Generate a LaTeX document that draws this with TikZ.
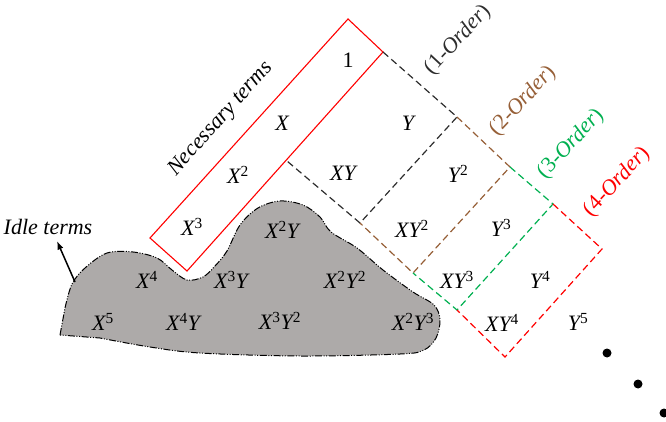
\documentclass[tikz,border=0pt]{standalone}
\usepackage{fontspec}
\setmainfont{Liberation Serif}
\usepackage{tikz}
\usetikzlibrary{arrows.meta,calc}
\definecolor{idlegray}{RGB}{173,170,169}
\definecolor{ordbrown}{RGB}{150,95,55}
\definecolor{ordgreen}{RGB}{0,176,80}
\definecolor{ordblack}{RGB}{45,45,45}
\newcommand{\pw}[1]{\textsuperscript{\upshape #1}}
\newcommand{\termsize}{\fontsize{22}{26}\selectfont}
\tikzset{
  gridline/.style={dash pattern=on 7pt off 4pt, line width=1.2pt},
  needbox/.style={draw=red, line width=1.1pt},
  idleblob/.style={draw=black, fill=idlegray, line width=1pt, dash pattern=on 7pt off 1.6pt on 1pt off 1.6pt on 1pt off 1.6pt},
  idlearrow/.style={-{Latex[length=3mm, width=2.2mm]}, line width=1.5pt},
  term/.style={font=\termsize\itshape, inner sep=0pt},
  ordlabel/.style={font=\termsize, rotate=47, inner sep=0pt},
  etcdot/.style={circle, fill=black, minimum size=9pt, inner sep=0pt}
}
\begin{document}
\begin{tikzpicture}[>=Latex, x=1pt, y=-1pt]
      \useasboundingbox (0,0) rectangle (666,422);
      \coordinate (nT) at (348,19);
      \coordinate (nR) at (383,52);
      \coordinate (nB) at (187,271);
      \coordinate (nL) at (150,238);
      \coordinate (m1) at (287,161);
      \coordinate (p1) at (457,117);
      \coordinate (q1) at (360,223);
      \coordinate (p2) at (510,167);
      \coordinate (q2) at (413,273);
      \coordinate (p3) at (553,204);
      \coordinate (q3) at (457,310);
      \coordinate (p4) at (602,249);
      \coordinate (q4) at (505,357);
      \draw[idleblob] (60,335) -- plot[smooth, tension=0.55] coordinates {(65,308) (72,284) (85,268) (107,253) (133,252) (157,258) (172,270) (187,280) (203,277) (215,266) (227,251) (240,225) (258,208) (280,201) (303,205) (320,217) (331,232) (357,248) (383,270) (413,292) (434,305) (440,320) (436,338) (424,350) (400,354) (300,356) (200,353) (150,347) (100,338)} -- cycle;
      \draw[needbox] (nT) -- (nR) -- (nB) -- (nL) -- cycle;
      \draw[gridline, ordblack] (nR) -- (p1) -- (q1) -- (m1);
      \draw[gridline, ordbrown] (p1) -- (p2) -- (q2) -- (q1);
      \draw[gridline, ordgreen] (p2) -- (p3) -- (q3) -- (q2);
      \draw[gridline, red] (p3) -- (p4) -- (q4) -- (q3);
      \coordinate (a1) at (75,282);
      \coordinate (a2) at (57,241);
      \draw[idlearrow] (a1) -- (a2);
      \node[term, font=\termsize] (t00) at (348,60) {1};
      \node[term] (t10) at (282,123) {X};
      \node[term] (t01) at (408,123) {Y};
      \node[term] (t20) at (238,175) {X\pw{2}};
      \node[term] (t11) at (343,173) {XY};
      \node[term] (t02) at (458,174) {Y\pw{2}};
      \node[term] (t30) at (192,227) {X\pw{3}};
      \node[term] (t21) at (282,230) {X\pw{2}Y};
      \node[term] (t12) at (412,229) {XY\pw{2}};
      \node[term] (t03) at (501,228) {Y\pw{3}};
      \node[term] (t40) at (147,280) {X\pw{4}};
      \node[term] (t31) at (231,280) {X\pw{3}Y};
      \node[term] (t22) at (345,280) {X\pw{2}Y\pw{2}};
      \node[term] (t13) at (457,280) {XY\pw{3}};
      \node[term] (t04) at (540,280) {Y\pw{4}};
      \node[term] (t50) at (103,322) {X\pw{5}};
      \node[term] (t41) at (183,322) {X\pw{4}Y};
      \node[term] (t32) at (280,321) {X\pw{3}Y\pw{2}};
      \node[term] (t23) at (413,322) {X\pw{2}Y\pw{3}};
      \node[term] (t14) at (502,323) {XY\pw{4}};
      \node[term] (t05) at (578,322) {Y\pw{5}};
      \node[term, rotate=48] (need) at (221,119) {Necessary terms};
      \node[term] (idle) at (48,227) {Idle terms};
      \node[ordlabel, ordblack] (o1) at (458,40) {(1-\textit{Order})};
      \node[ordlabel, ordbrown] (o2) at (523,101) {(2-\textit{Order})};
      \node[ordlabel, ordgreen] (o3) at (571,144) {(3-\textit{Order})};
      \node[ordlabel, red] (o4) at (617,182) {(4-\textit{Order})};
      \node[etcdot] (d1) at (607,353) {};
      \node[etcdot] (d2) at (638,384) {};
      \node[etcdot] (d3) at (664,413) {};
    \end{tikzpicture}
\end{document}
